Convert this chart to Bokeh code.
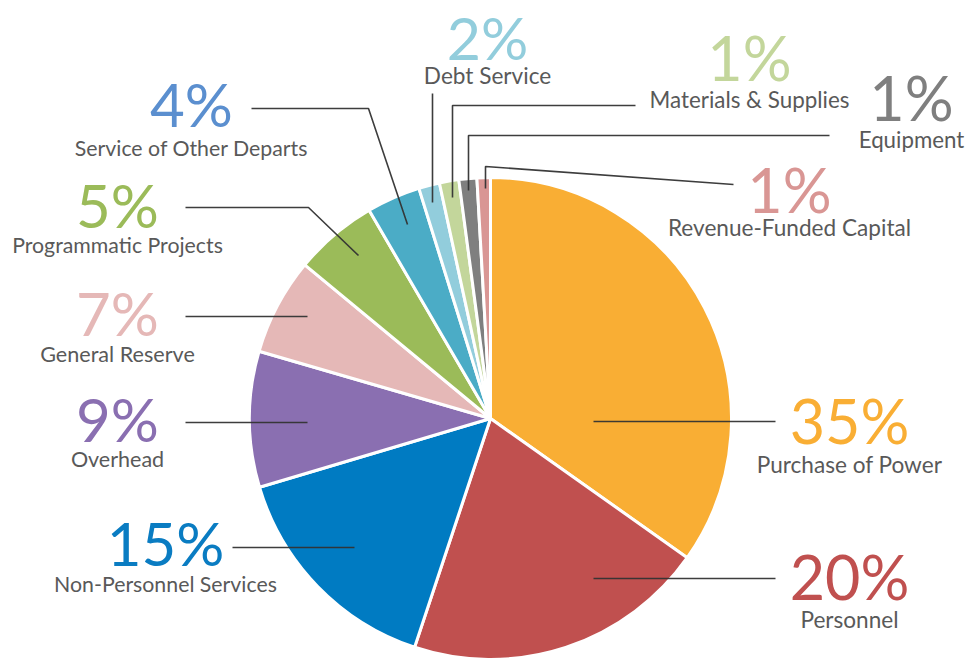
import math
from bokeh.plotting import figure
from bokeh.models import Range1d, ColumnDataSource
from bokeh.core.properties import value
from bokeh.embed import file_html
from bokeh.resources import INLINE

# ---- data ----
categories = ["Purchase of Power", "Personnel", "Non-Personnel Services", "Overhead",
              "General Reserve", "Programmatic Projects", "Service of Other Departs",
              "Debt Service", "Materials & Supplies", "Equipment", "Revenue-Funded Capital"]
shares = [34.8, 20.3, 15.3, 9.1, 6.5, 5.6, 3.6, 1.4, 1.3, 1.2, 0.9]
pct_labels = ["35%", "20%", "15%", "9%", "7%", "5%", "4%", "2%", "1%", "1%", "1%"]

# ---- styles ----
slice_colors = ["#f9ae34", "#c0504f", "#007bc2", "#8a6fb1", "#e5b8b7", "#9bbb59",
                "#4bacc6", "#92cddc", "#c3d69b", "#7f7f7f", "#d99694"]
pct_colors = ["#f9ae34", "#c0504f", "#0a7cc2", "#8a6fb1", "#e5b8b7", "#9bbb59",
              "#5b8fcf", "#92cddc", "#c3d69b", "#7f7f7f", "#d99694"]
num_sizes = ["61px", "61px", "60px", "60px", "60px", "60px", "60px", "59px", "61px", "61px", "61px"]
lab_sizes = ["22.6px", "22.6px", "21.3px", "21.5px", "21.6px", "21.3px", "21.3px",
             "22.6px", "22.4px", "22.3px", "22.6px"]

# ---- layout (page pixel coordinates, y downward) ----
W, H = 978, 659
center_px = (490, 418)
radius = 241
label_cx = [849, 849, 165, 117, 117, 117, 191, 487, 749, 911, 789]
num_base = [443, 599, 565, 441, 335, 227, 126, 59, 80, 120, 212]
lab_base = [473, 628, 592, 467, 362, 253, 156, 84, 108, 147, 236]
leaders = [
    [(775, 421), (593, 421)],
    [(775, 578), (593, 578)],
    [(232, 547), (354, 547)],
    [(185, 422), (307, 422)],
    [(185, 316), (307, 316)],
    [(185, 207), (308, 207), (358, 255)],
    [(251, 108), (368, 108), (407, 224)],
    [(432, 93), (432, 202)],
    [(635, 105), (452, 105), (452, 197)],
    [(829, 135), (468, 135), (468, 190)],
    [(733, 184), (485, 166), (485, 188)],
]
BASELINE_SHIFT = 0.38  # renderer offset of the alphabetic baseline, in em


def fy(py):
    return H - py


p = figure(width=W, height=H, output_backend="svg", toolbar_location=None,
           x_range=Range1d(0, W), y_range=Range1d(0, H), min_border=0)
p.axis.visible = False
p.grid.visible = False
p.outline_line_color = None
p.background_fill_color = "white"
p.border_fill_color = "white"

total = sum(shares)
starts, ends = [], []
cum = 0.0
for s in shares:
    starts.append(math.pi / 2 - 2 * math.pi * cum / total)
    cum += s
    ends.append(math.pi / 2 - 2 * math.pi * cum / total)

src = ColumnDataSource(dict(cat=categories, start=starts, end=ends, color=slice_colors))
p.wedge(x=center_px[0], y=fy(center_px[1]), radius=radius, start_angle="start",
        end_angle="end", direction="clock", fill_color="color", line_color="white",
        line_width=3, source=src)

p.multi_line(xs=[[pt[0] for pt in l] for l in leaders],
             ys=[[fy(pt[1]) for pt in l] for l in leaders],
             line_color="#333333", line_width=1.6, line_alpha=0.95)


def px(s):
    return float(s.replace("px", ""))


tsrc = ColumnDataSource(dict(
    x=label_cx,
    yn=[fy(b - BASELINE_SHIFT * px(s)) for b, s in zip(num_base, num_sizes)],
    yl=[fy(b - BASELINE_SHIFT * px(s)) for b, s in zip(lab_base, lab_sizes)],
    pct=pct_labels, cat=categories, pc=pct_colors, ns=num_sizes, ls=lab_sizes))
p.text(x="x", y="yn", text="pct", text_color="pc", text_font=value("Lato"),
       text_font_size="ns", text_align="center", text_baseline="alphabetic", source=tsrc)
p.text(x="x", y="yl", text="cat", text_color="#595959", text_font=value("Lato"),
       text_font_size="ls", text_align="center", text_baseline="alphabetic", source=tsrc)

open("out.html", "w").write(file_html(p, INLINE))
